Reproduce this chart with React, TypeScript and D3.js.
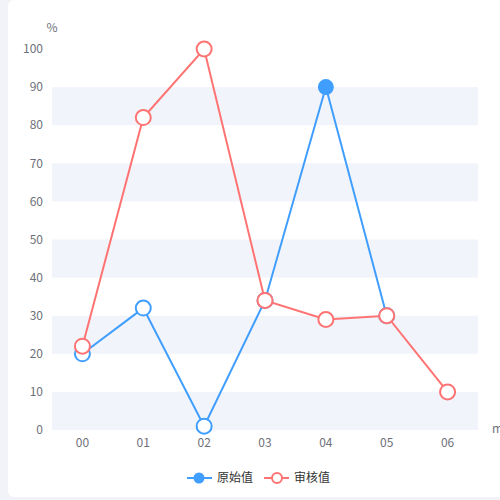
import React from 'react'
import * as d3 from 'd3'

// chart data
const categories = ['00', '01', '02', '03', '04', '05', '06']
const rawValues: (number | null)[] = [20, 32, 1, 34, 90, 30, null]
const auditValues: (number | null)[] = [22, 82, 100, 34, 29, 30, 10]
const yTicks = [0, 10, 20, 30, 40, 50, 60, 70, 80, 90, 100]
const seriesNames = ['原始值', '审核值']
const highlightIndex = 4 // hovered point on 原始值

const BLUE = '#409eff'
const RED = '#ff7373'
const BAND = '#f1f4fb'
const LABEL = '#6e7079'
const FONT = '"Noto Sans CJK SC", "Noto Sans", sans-serif'

export default function App() {
  const width = 500
  const height = 500

  const x = d3.scalePoint<string>().domain(categories).range([52, 478]).padding(0.5)
  const y = d3.scaleLinear().domain([0, 100]).range([430, 49])

  const line = d3.line<number | null>()
    .defined(d => d != null)
    .x((_, i) => x(categories[i]) as number)
    .y(d => y(d as number))

  // alternating split areas between ticks
  const bands = yTicks.slice(0, -1).filter((_, i) => i % 2 === 0)

  const series = [
    { name: seriesNames[0], values: rawValues, color: BLUE },
    { name: seriesNames[1], values: auditValues, color: RED }
  ]

  return (
    <svg width={width} height={height} style={{ position: 'absolute', left: 0, top: 0, fontFamily: FONT }}>
      <rect x={0} y={0} width={width} height={height} fill="#f2f3f8" />
      <rect x={8} y={0} width={width} height={497} rx={6} fill="#ffffff" />

      {/* split areas */}
      {bands.map(t => (
        <rect key={t} x={52} width={426} y={y(t + 10)} height={y(t) - y(t + 10)} fill={BAND} />
      ))}

      {/* y axis labels */}
      {yTicks.map(t => (
        <text key={t} x={43} y={y(t)} dy="0.35em" textAnchor="end" fontSize={12} fill={LABEL}>{t}</text>
      ))}
      <text x={52} y={28} dy="0.35em" textAnchor="middle" fontSize={12} fill={LABEL}>%</text>

      {/* x axis labels */}
      {categories.map(c => (
        <text key={c} x={x(c)} y={443} dy="0.35em" textAnchor="middle" fontSize={12} fill={LABEL}>{c}</text>
      ))}
      <text x={492} y={429} dy="0.35em" fontSize={12} fill={LABEL}>min</text>

      {/* series */}
      {series.map(s => (
        <g key={s.name}>
          <path d={line(s.values) || ''} fill="none" stroke={s.color} strokeWidth={2} />
          {s.values.map((v, i) => v == null ? null : (
            s.name === seriesNames[0] && i === highlightIndex
              ? <circle key={i} cx={x(categories[i])} cy={y(v)} r={8} fill={s.color} />
              : <circle key={i} cx={x(categories[i])} cy={y(v)} r={7.5} fill="#fff" stroke={s.color} strokeWidth={2} />
          ))}
        </g>
      ))}

      {/* legend */}
      <g>
        <line x1={187} x2={212} y1={478} y2={478} stroke={BLUE} strokeWidth={2} />
        <circle cx={199} cy={478} r={5.5} fill={BLUE} />
        <text x={217} y={478} dy="0.35em" fontSize={12} fill="#333">{seriesNames[0]}</text>
        <line x1={264} x2={289} y1={478} y2={478} stroke={RED} strokeWidth={2} />
        <circle cx={277} cy={478} r={5} fill="#fff" stroke={RED} strokeWidth={2} />
        <text x={294} y={478} dy="0.35em" fontSize={12} fill="#333">{seriesNames[1]}</text>
      </g>
    </svg>
  )
}
